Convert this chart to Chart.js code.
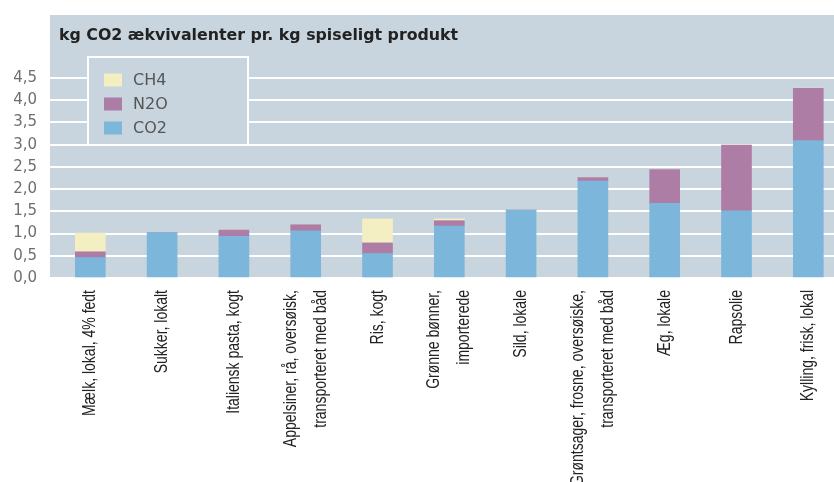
<!DOCTYPE html>
<html>
<head>
<meta charset="utf-8">
<script src="https://cdn.jsdelivr.net/npm/chart.js@4.4.0/dist/chart.umd.min.js"></script>
<style>
  html, body { margin: 0; padding: 0; background: #ffffff; }
  #wrap { position: relative; width: 834px; height: 482px; }
</style>
</head>
<body>
<div id="wrap"><canvas id="chart"></canvas></div>
<script>
// Food products (label lines as printed under the axis)
const categories = [
  ['Mælk, lokal, 4% fedt'],
  ['Sukker, lokalt'],
  ['Italiensk pasta, kogt'],
  ['Appelsiner, rå, oversøisk,', 'transporteret med båd'],
  ['Ris, kogt'],
  ['Grønne bønner,', 'importerede'],
  ['Sild, lokale'],
  ['Grøntsager, frosne, oversøiske,', 'transporteret med båd'],
  ['Æg, lokale'],
  ['Rapsolie'],
  ['Kylling, frisk, lokal']
];

// kg CO2-equivalents per kg edible product, by gas
const co2 = [0.46, 1.02, 0.94, 1.06, 0.55, 1.17, 1.53, 2.18, 1.68, 1.51, 3.09];
const n2o = [0.13, 0.00, 0.14, 0.14, 0.24, 0.12, 0.00, 0.08, 0.76, 1.48, 1.18];
const ch4 = [0.42, 0.00, 0.00, 0.00, 0.54, 0.04, 0.00, 0.00, 0.00, 0.00, 0.00];

const yTickValues = [0, 0.5, 1, 1.5, 2, 2.5, 3, 3.5, 4, 4.5];
const yTickLabels = ['0,0', '0,5', '1,0', '1,5', '2,0', '2,5', '3,0', '3,5', '4,0', '4,5'];

const chartTitle = 'kg CO2 ækvivalenter pr. kg spiseligt produkt';

const PANEL = '#c9d5de';
const COLORS = { CO2: '#7cb6db', N2O: '#ae7da5', CH4: '#f4efc3' };

const points = arr => arr.map((v, i) => ({ x: i, y: v }));

// Grey panel behind the plot, with the heading inside it
const panelPlugin = {
  id: 'panel',
  beforeDraw(chart) {
    const { ctx, chartArea: a } = chart;
    ctx.save();
    ctx.fillStyle = PANEL;
    ctx.fillRect(a.left, 15, a.right - a.left, a.bottom - 15);
    ctx.fillStyle = '#222222';
    ctx.font = 'bold 15.8px "DejaVu Sans"';
    ctx.textBaseline = 'alphabetic';
    ctx.textAlign = 'left';
    ctx.fillText(chartTitle, a.left + 9, 40);
    ctx.restore();
  }
};

// Boxed legend in the upper left of the panel, top of the stack first
const legendPlugin = {
  id: 'boxLegend',
  afterDatasetsDraw(chart) {
    const { ctx } = chart;
    const items = chart.data.datasets.slice().reverse();
    ctx.save();
    ctx.fillStyle = PANEL;
    ctx.fillRect(88, 57, 160, 88);
    ctx.strokeStyle = '#ffffff';
    ctx.lineWidth = 2;
    ctx.strokeRect(88, 57, 160, 88);
    ctx.font = '16px "DejaVu Sans"';
    ctx.textBaseline = 'middle';
    ctx.textAlign = 'left';
    items.forEach((ds, k) => {
      const cy = 80 + k * 24;
      ctx.fillStyle = ds.backgroundColor;
      ctx.fillRect(104, cy - 6.5, 18, 13);
      ctx.fillStyle = '#555555';
      ctx.fillText(ds.label, 133, cy + 1);
    });
    ctx.restore();
  }
};

// Upright category labels, centred on each bar, reading bottom to top
const categoryLabelPlugin = {
  id: 'categoryLabels',
  afterDraw(chart) {
    const { ctx } = chart;
    const xs = chart.scales.x;
    const top = chart.chartArea.bottom + 12;
    const gap = 30;
    ctx.save();
    ctx.fillStyle = '#222222';
    ctx.font = '14px "Liberation Sans"';
    ctx.textAlign = 'right';
    ctx.textBaseline = 'middle';
    categories.forEach((lines, i) => {
      const px = xs.getPixelForValue(i);
      lines.forEach((line, j) => {
        const cx = px + (j - (lines.length - 1) / 2) * gap;
        ctx.save();
        ctx.translate(cx, top);
        ctx.rotate(-Math.PI / 2);
        ctx.scale(1, 1.3);
        ctx.fillText(line, 0, 0);
        ctx.restore();
      });
    });
    ctx.restore();
  }
};

new Chart(document.getElementById('chart'), {
  type: 'bar',
  data: {
    datasets: [
      { label: 'CO2', data: points(co2), backgroundColor: COLORS.CO2 },
      { label: 'N2O', data: points(n2o), backgroundColor: COLORS.N2O },
      { label: 'CH4', data: points(ch4), backgroundColor: COLORS.CH4 }
    ]
  },
  options: {
    responsive: true,
    maintainAspectRatio: false,
    devicePixelRatio: 1,
    animation: false,
    events: [],
    layout: { padding: { top: 78, left: 0, right: 0, bottom: 0 } },
    datasets: { bar: { barThickness: 30, borderWidth: 0 } },
    plugins: {
      legend: { display: false },
      title: { display: false },
      tooltip: { enabled: false }
    },
    scales: {
      x: {
        type: 'linear',
        stacked: true,
        offset: false,
        min: -0.5613,
        max: 10.358,
        grid: { display: false },
        border: { display: false },
        ticks: { display: false },
        afterFit(scale) { scale.height = 204; }
      },
      y: {
        stacked: true,
        min: 0,
        max: 4.5,
        afterBuildTicks(scale) { scale.ticks = yTickValues.map(v => ({ value: v })); },
        afterFit(scale) { scale.width = 50; },
        grid: { color: '#ffffff', lineWidth: 2, drawTicks: false },
        border: { display: false },
        ticks: {
          padding: 13,
          color: '#6e6e6e',
          font: { family: 'DejaVu Sans', size: 15 },
          callback: (v, i) => yTickLabels[i]
        }
      }
    }
  },
  plugins: [panelPlugin, legendPlugin, categoryLabelPlugin]
});
</script>
</body>
</html>
